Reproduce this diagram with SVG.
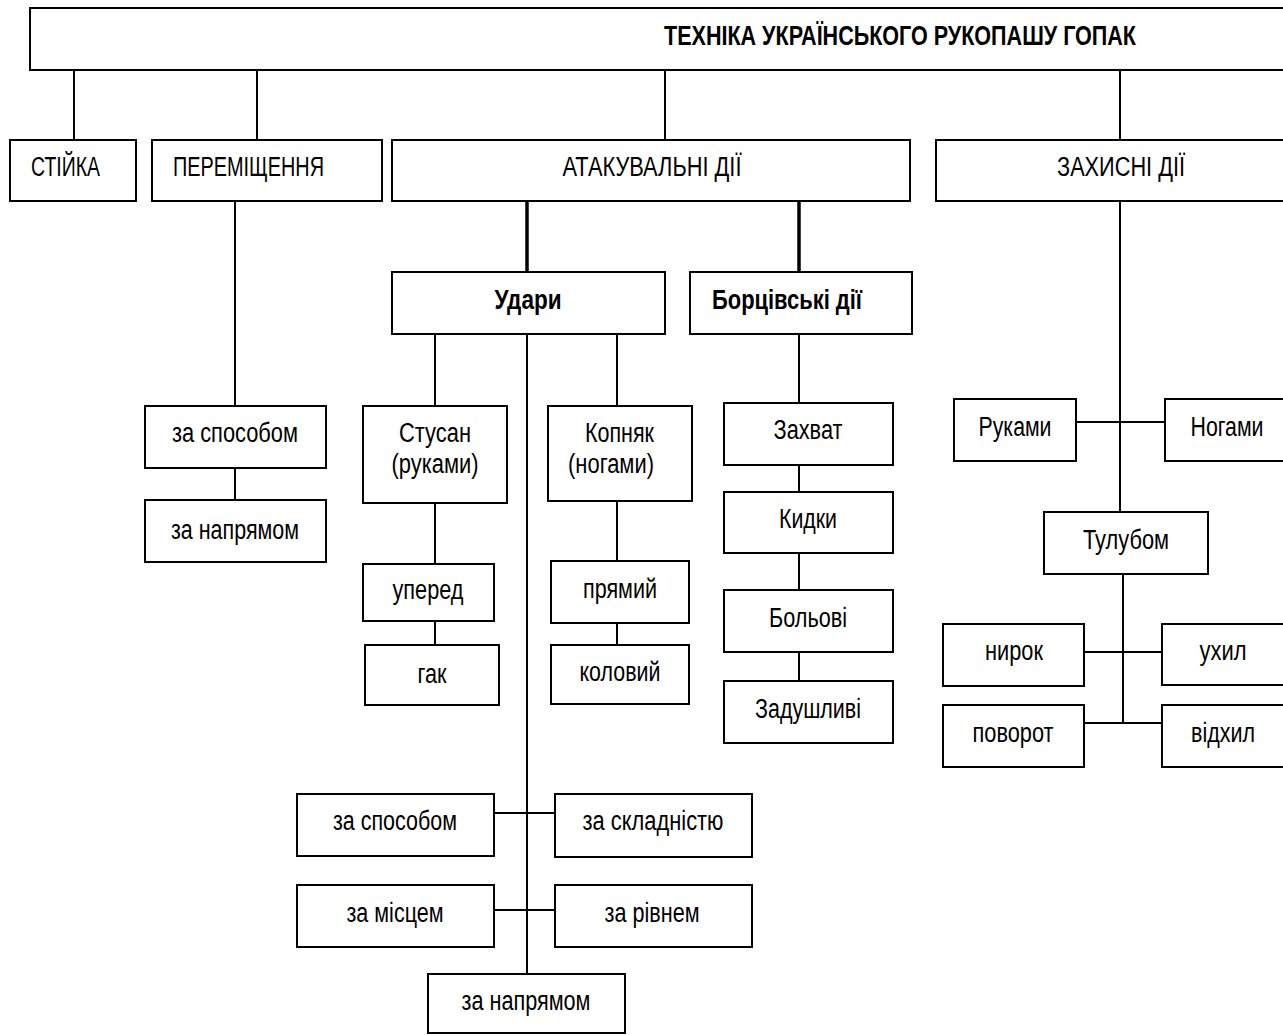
<svg xmlns="http://www.w3.org/2000/svg" width="1283" height="1035" viewBox="0 0 1283 1035">
<style>
rect{fill:#fff;stroke:#000;stroke-width:2}
text{font-family:"Liberation Sans",Arial,sans-serif;font-size:27px;fill:#000}
.b{font-weight:bold}
.m{text-anchor:middle}
.e{text-anchor:end}
#connectors line{stroke:#000;stroke-width:2}
#connectors line.t{stroke-width:3.5}
</style>
<rect x="0" y="0" width="1283" height="1035" style="fill:#fff;stroke:none"/>
<g id="connectors">
<line x1="74" y1="70" x2="74" y2="140"/>
<line x1="257" y1="70" x2="257" y2="140"/>
<line x1="665" y1="70" x2="665" y2="140"/>
<line x1="1120" y1="70" x2="1120" y2="140"/>
<line x1="235" y1="201" x2="235" y2="406"/>
<line x1="235" y1="468" x2="235" y2="500"/>
<line class="t" x1="527" y1="201" x2="527" y2="272"/>
<line class="t" x1="799" y1="201" x2="799" y2="272"/>
<line x1="1120" y1="201" x2="1120" y2="512"/>
<line x1="1076" y1="422" x2="1165" y2="422"/>
<line x1="435" y1="334" x2="435" y2="406"/>
<line x1="617" y1="334" x2="617" y2="406"/>
<line x1="527" y1="334" x2="527" y2="974"/>
<line x1="435" y1="503" x2="435" y2="564"/>
<line x1="435" y1="621" x2="435" y2="645"/>
<line x1="617" y1="501" x2="617" y2="561"/>
<line x1="617" y1="623" x2="617" y2="645"/>
<line x1="799" y1="334" x2="799" y2="403"/>
<line x1="799" y1="465" x2="799" y2="492"/>
<line x1="799" y1="553" x2="799" y2="590"/>
<line x1="799" y1="652" x2="799" y2="681"/>
<line x1="1123" y1="574" x2="1123" y2="723"/>
<line x1="1084" y1="652" x2="1162" y2="652"/>
<line x1="1084" y1="723" x2="1162" y2="723"/>
<line x1="494" y1="813" x2="555" y2="813"/>
<line x1="494" y1="910" x2="555" y2="910"/>
</g>
<g id="title"><rect x="30" y="8" width="1265" height="62"/><text class="b" x="664" y="45" textLength="472" lengthAdjust="spacingAndGlyphs">ТЕХНІКА УКРАЇНСЬКОГО РУКОПАШУ ГОПАК</text></g>
<g id="stiyka"><rect x="10" y="140" width="126" height="61"/><text x="31" y="176" textLength="69" lengthAdjust="spacingAndGlyphs">СТІЙКА</text></g>
<g id="peremishchennia"><rect x="152" y="140" width="230" height="61"/><text x="173" y="176" textLength="151" lengthAdjust="spacingAndGlyphs">ПЕРЕМІЩЕННЯ</text></g>
<g id="atakuvalni"><rect x="392" y="140" width="518" height="61"/><text class="m" x="652" y="176" textLength="179" lengthAdjust="spacingAndGlyphs">АТАКУВАЛЬНІ ДІЇ</text></g>
<g id="zakhysni"><rect x="936" y="140" width="360" height="61"/><text class="m" x="1121" y="176" textLength="128" lengthAdjust="spacingAndGlyphs">ЗАХИСНІ ДІЇ</text></g>
<g id="per-sposib"><rect x="145" y="406" width="181" height="62"/><text class="m" x="235" y="442" textLength="126" lengthAdjust="spacingAndGlyphs">за способом</text></g>
<g id="per-napriam"><rect x="145" y="500" width="181" height="62"/><text class="m" x="235" y="539" textLength="128" lengthAdjust="spacingAndGlyphs">за напрямом</text></g>
<g id="udary"><rect x="392" y="272" width="273" height="62"/><text class="b m" x="528" y="309" textLength="67" lengthAdjust="spacingAndGlyphs">Удари</text></g>
<g id="bortsivski"><rect x="690" y="272" width="222" height="62"/><text class="b" x="712" y="309" textLength="150" lengthAdjust="spacingAndGlyphs">Борцівські дії</text></g>
<g id="stusan"><rect x="363" y="406" width="144" height="97"/><text class="m" x="435" y="442" textLength="72" lengthAdjust="spacingAndGlyphs">Стусан</text><text class="m" x="435" y="473" textLength="87" lengthAdjust="spacingAndGlyphs">(руками)</text></g>
<g id="kopniak"><rect x="548" y="406" width="144" height="95"/><text class="e" x="654" y="442" textLength="69" lengthAdjust="spacingAndGlyphs">Копняк</text><text class="e" x="654" y="473" textLength="86" lengthAdjust="spacingAndGlyphs">(ногами)</text></g>
<g id="upered"><rect x="363" y="564" width="131" height="57"/><text class="m" x="428" y="599" textLength="71" lengthAdjust="spacingAndGlyphs">уперед</text></g>
<g id="hak"><rect x="365" y="645" width="134" height="60"/><text class="m" x="432" y="683" textLength="29" lengthAdjust="spacingAndGlyphs">гак</text></g>
<g id="priamyi"><rect x="551" y="561" width="138" height="62"/><text class="m" x="620" y="598" textLength="74" lengthAdjust="spacingAndGlyphs">прямий</text></g>
<g id="kolovyi"><rect x="551" y="645" width="138" height="59"/><text class="m" x="620" y="681" textLength="81" lengthAdjust="spacingAndGlyphs">коловий</text></g>
<g id="zakhvat"><rect x="724" y="403" width="169" height="62"/><text class="m" x="808" y="439" textLength="69" lengthAdjust="spacingAndGlyphs">Захват</text></g>
<g id="kydky"><rect x="724" y="492" width="169" height="61"/><text class="m" x="808" y="528" textLength="58" lengthAdjust="spacingAndGlyphs">Кидки</text></g>
<g id="bolovi"><rect x="724" y="590" width="169" height="62"/><text class="m" x="808" y="627" textLength="78" lengthAdjust="spacingAndGlyphs">Больові</text></g>
<g id="zadushlyvi"><rect x="724" y="681" width="169" height="62"/><text class="m" x="808" y="718" textLength="106" lengthAdjust="spacingAndGlyphs">Задушливі</text></g>
<g id="rukamy"><rect x="954" y="399" width="122" height="62"/><text class="m" x="1015" y="436" textLength="73" lengthAdjust="spacingAndGlyphs">Руками</text></g>
<g id="nohamy"><rect x="1165" y="399" width="130" height="62"/><text class="m" x="1227" y="436" textLength="73" lengthAdjust="spacingAndGlyphs">Ногами</text></g>
<g id="tulubom"><rect x="1044" y="512" width="164" height="62"/><text class="m" x="1126" y="549" textLength="86" lengthAdjust="spacingAndGlyphs">Тулубом</text></g>
<g id="nyrok"><rect x="943" y="624" width="141" height="62"/><text class="m" x="1014" y="660" textLength="58" lengthAdjust="spacingAndGlyphs">нирок</text></g>
<g id="ukhyl"><rect x="1162" y="624" width="130" height="61"/><text class="m" x="1223" y="660" textLength="47" lengthAdjust="spacingAndGlyphs">ухил</text></g>
<g id="povorot"><rect x="943" y="705" width="141" height="62"/><text class="m" x="1013" y="742" textLength="81" lengthAdjust="spacingAndGlyphs">поворот</text></g>
<g id="vidkhyl"><rect x="1162" y="705" width="130" height="62"/><text class="m" x="1223" y="742" textLength="64" lengthAdjust="spacingAndGlyphs">відхил</text></g>
<g id="ud-sposib"><rect x="297" y="794" width="197" height="62"/><text class="m" x="395" y="830" textLength="124" lengthAdjust="spacingAndGlyphs">за способом</text></g>
<g id="ud-skladnist"><rect x="555" y="794" width="197" height="63"/><text class="m" x="653" y="830" textLength="141" lengthAdjust="spacingAndGlyphs">за складністю</text></g>
<g id="ud-mistse"><rect x="297" y="885" width="197" height="62"/><text class="m" x="395" y="922" textLength="97" lengthAdjust="spacingAndGlyphs">за місцем</text></g>
<g id="ud-riven"><rect x="555" y="885" width="197" height="62"/><text class="m" x="652" y="922" textLength="95" lengthAdjust="spacingAndGlyphs">за рівнем</text></g>
<g id="ud-napriam"><rect x="428" y="974" width="197" height="59"/><text class="m" x="526" y="1010" textLength="129" lengthAdjust="spacingAndGlyphs">за напрямом</text></g>
</svg>
